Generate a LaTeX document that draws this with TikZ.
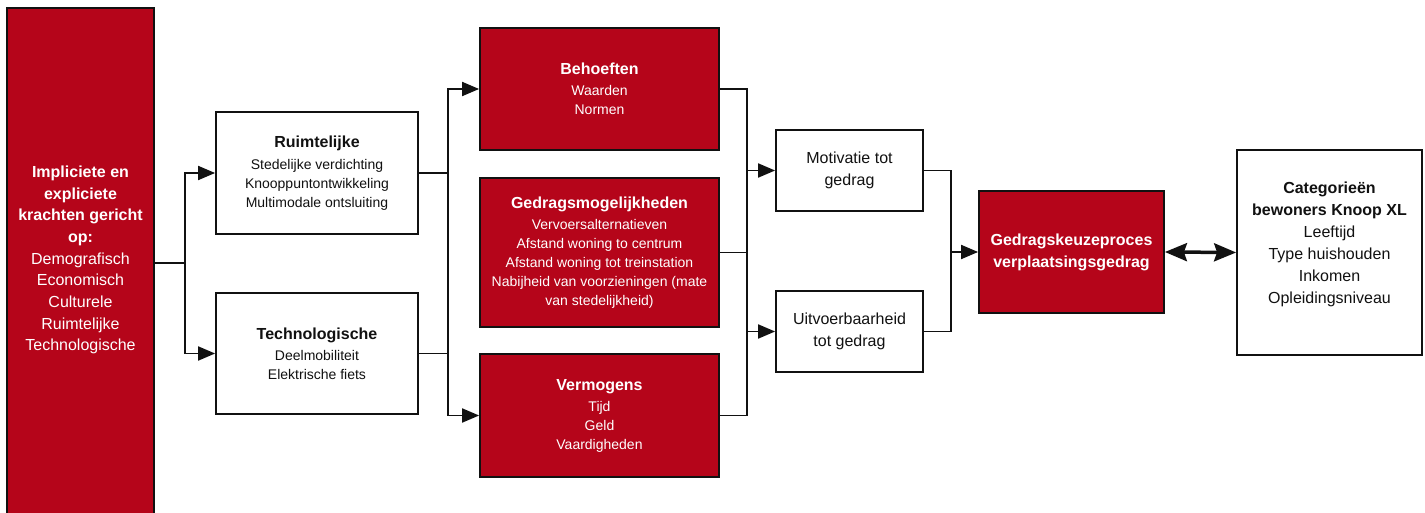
\documentclass[tikz,border=0pt]{standalone}
\usepackage{fontspec}
\setmainfont{Liberation Sans}
\usetikzlibrary{arrows.meta}
\definecolor{dred}{HTML}{B5051A}
\definecolor{ink}{HTML}{111111}
\begin{document}
\begin{tikzpicture}[x=1pt,y=-1pt,
 box/.style={draw=ink, line width=1.8pt, rectangle, inner sep=0pt, align=center},
 redbox/.style={box, fill=dred, text=white},
 whitebox/.style={box, fill=white, text=ink},
 small/.style={font=\fontsize{14}{19}\selectfont},
 big/.style={font=\fontsize{16}{22}\selectfont},
 conn/.style={draw=ink, line width=1.9pt},
 arr/.style={conn, -{Triangle[length=17pt,width=14pt]}},
 darr/.style={draw=ink, line width=3.5pt, {Stealth[length=22pt,width=18pt,inset=3pt]}-{Stealth[length=22pt,width=18pt,inset=3pt]}}
]
\useasboundingbox (0,0) rectangle (1425,513);
\newcommand{\ttl}[1]{{\fontsize{16}{19}\selectfont\bfseries #1}}

% left box
\node[redbox, minimum width=147, minimum height=520] (left) at (80.5,268) {};
\node[big, text=white, align=center, font=\fontsize{16}{21.7}\selectfont] (lefttxt) at (80.5,260)
 {\textbf{Impliciete en}\\\textbf{expliciete}\\\textbf{krachten gericht}\\\textbf{op:}\\Demografisch\\Economisch\\Culturele\\Ruimtelijke\\Technologische};

% second column
\node[whitebox, small, minimum width=202, minimum height=122] (ruim) at (317,173)
 {\ttl{Ruimtelijke}\\[3pt]Stedelijke verdichting\\Knooppuntontwikkeling\\Multimodale ontsluiting};
\node[whitebox, small, minimum width=202, minimum height=121] (tech) at (317,353.5)
 {\ttl{Technologische}\\[2pt]Deelmobiliteit\\Elektrische fiets};

% third column
\node[redbox, small, minimum width=239, minimum height=122] (beh) at (599.5,89)
 {\ttl{Behoeften}\\[2pt]Waarden\\Normen};
\node[redbox, small, minimum width=239, minimum height=149] (ged) at (599.5,252.5)
 {\ttl{Gedragsmogelijkheden}\\[2pt]Vervoersalternatieven\\Afstand woning to centrum\\Afstand woning tot treinstation\\Nabijheid van voorzieningen (mate\\van stedelijkheid)};
\node[redbox, small, minimum width=239, minimum height=123] (verm) at (599.5,415.5)
 {\ttl{Vermogens}\\[2pt]Tijd\\Geld\\Vaardigheden};

% fourth column
\node[whitebox, big, minimum width=147, minimum height=81] (mot) at (849.5,170.5)
 {Motivatie tot\\gedrag};
\node[whitebox, big, minimum width=147, minimum height=81] (uit) at (849.5,331.5)
 {Uitvoerbaarheid\\tot gedrag};

% fifth
\node[redbox, big, minimum width=185, minimum height=122] (keuze) at (1071.5,252)
 {\textbf{Gedragskeuzeproces}\\\textbf{verplaatsingsgedrag}};

% sixth
\node[whitebox, minimum width=185, minimum height=205] (cat) at (1329.5,252.5) {};
\node[big, text=ink, align=center] (cattxt) at (1329.5,244)
 {\textbf{Categorieën}\\\textbf{bewoners Knoop XL}\\Leeftijd\\Type huishouden\\Inkomen\\Opleidingsniveau};

% connectors
\coordinate (j1) at (185,263);
\coordinate (j2) at (448,0);
\coordinate (j3) at (747,0);
\coordinate (j4) at (951,0);

\draw[conn] (left.east |- j1) -- (j1);
\draw[arr] (j1) |- (ruim.west);
\draw[arr] (j1) |- (tech.west);

\draw[arr] (ruim.east) -- (ruim.east -| j2) |- (beh.west);
\draw[arr] (tech.east) -- (tech.east -| j2) |- (verm.west);
\draw[conn] (ruim.east -| j2) -- (tech.east -| j2);

\draw[conn] (beh.east) -- (beh.east -| j3) -- (verm.east -| j3) -- (verm.east);
\draw[conn] (ged.east) -- (ged.east -| j3);
\draw[arr] (mot.west -| j3) -- (mot.west);
\draw[arr] (uit.west -| j3) -- (uit.west);

\draw[conn] (mot.east) -- (mot.east -| j4) -- (uit.east -| j4) -- (uit.east);
\draw[arr] (keuze.west -| j4) -- (keuze.west);

\draw[darr] (keuze.east) -- (cat.west);
\end{tikzpicture}
\end{document}
